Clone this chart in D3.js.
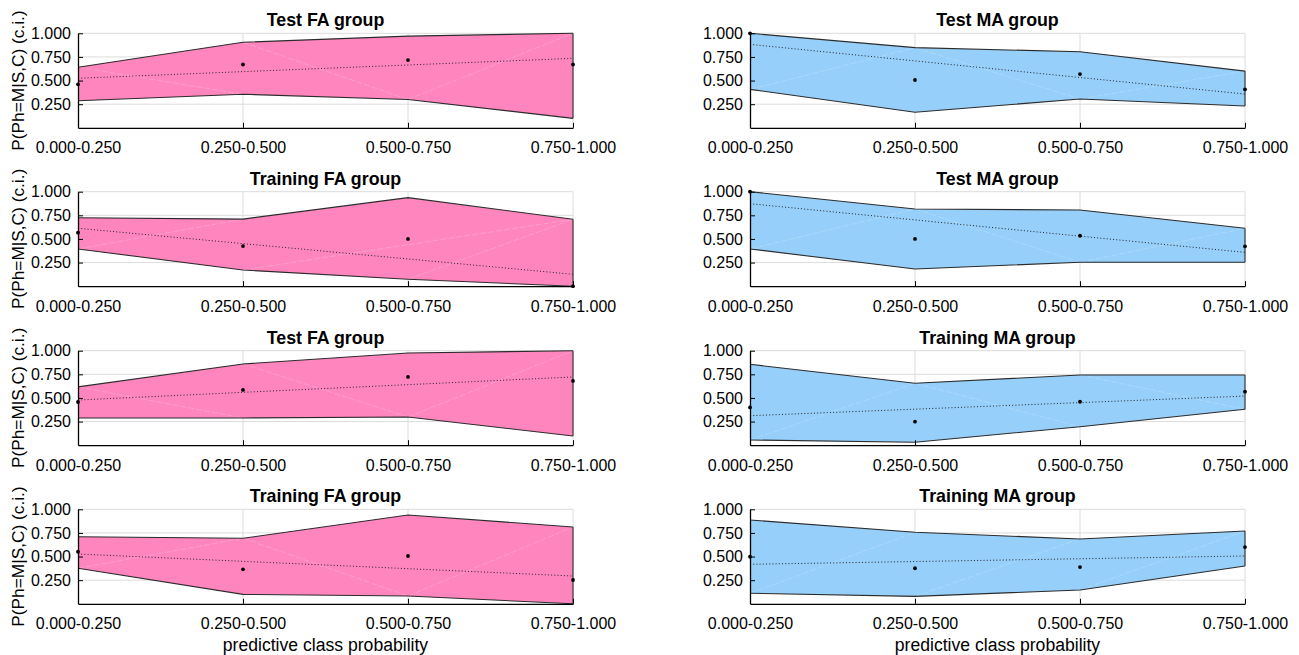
<!DOCTYPE html>
<html>
<head>
<meta charset="utf-8">
<script src="https://cdn.jsdelivr.net/npm/d3@7"></script>
<style>
  body { margin: 0; background: #fff; }
  text { font-family: "Liberation Sans", Arial, sans-serif; }
</style>
</head>
<body>
<svg id="chart"></svg>
<script>
//*************** data ******************//

var categories = ["0.000-0.250", "0.250-0.500", "0.500-0.750", "0.750-1.000"];
var yTicks = [0.25, 0.5, 0.75, 1.0];

// panels in reading order: left/right per row
var titles = ["Test FA group", "Test MA group",
              "Training FA group", "Test MA group",
              "Test FA group", "Training MA group",
              "Training FA group", "Training MA group"];
var groups = ["FA", "MA", "FA", "MA", "FA", "MA", "FA", "MA"];

// upper / lower bound of the interval
var upper = [[0.64, 0.905, 0.97, 1.0],
             [1.0, 0.848, 0.805, 0.60],
             [0.725, 0.71, 0.937, 0.708],
             [1.0, 0.817, 0.806, 0.613],
             [0.617, 0.86, 0.975, 1.0],
             [0.856, 0.655, 0.743, 0.743],
             [0.71, 0.693, 0.94, 0.813],
             [0.887, 0.757, 0.686, 0.77]];
var lower = [[0.287, 0.355, 0.30, 0.10],
             [0.407, 0.164, 0.305, 0.23],
             [0.394, 0.171, 0.073, 0.0],
             [0.394, 0.182, 0.253, 0.253],
             [0.288, 0.288, 0.298, 0.097],
             [0.055, 0.031, 0.196, 0.38],
             [0.376, 0.10, 0.083, 0.0],
             [0.111, 0.079, 0.146, 0.40]];
// observed proportion per bin
var observed = [[0.46, 0.67, 0.717, 0.67],
                [1.0, 0.506, 0.569, 0.407],
                [0.566, 0.425, 0.50, 0.0],
                [1.0, 0.50, 0.534, 0.422],
                [0.457, 0.585, 0.722, 0.68],
                [0.40, 0.249, 0.46, 0.566],
                [0.551, 0.365, 0.506, 0.252],
                [0.498, 0.376, 0.389, 0.60]];
// fitted trend at first and last bin
var trend = [[0.524, 0.735],
             [0.883, 0.357],
             [0.613, 0.126],
             [0.873, 0.358],
             [0.478, 0.722],
             [0.312, 0.52],
             [0.527, 0.294],
             [0.418, 0.506]];
// faint seams of the filled patch
var seams = [[["U",0,"L",1], ["U",1,"L",2], ["L",2,"U",3]],
             [["L",0,"U",1], ["U",1,"L",2], ["L",2,"U",3]],
             [["L",0,"U",1], ["L",1,"U",3], ["L",2,"U",3]],
             [["L",0,"U",1], ["U",1,"L",2], ["L",2,"U",3]],
             [["U",0,"L",1], ["U",1,"L",2], ["L",2,"U",3]],
             [["L",0,"U",1], ["U",1,"L",2], ["U",2,"L",3]],
             [["L",0,"U",1], ["U",1,"L",2], ["L",2,"U",3]],
             [["L",0,"U",1], ["L",1,"U",2], ["L",2,"U",3]]];

//*************** layout ******************//

var W = 1299, H = 655;
var colLeft = [78, 750];
var rowTop = [33.3, 191.7, 350.7, 509.3];
var pw = 495, ph = 94.5;
var fillColor = { FA: "#ff85bf", MA: "#96cffa" };

var svg = d3.select("svg#chart")
  .attr("width", W)
  .attr("height", H);

var xScale = d3.scalePoint().domain(categories).range([0, pw]).padding(0);
var yScale = d3.scaleLinear().domain([0, 1]).range([ph, 0]);

titles.forEach(function(title, p) {
  var col = p % 2, row = Math.floor(p / 2);
  var g = svg.append("g")
    .attr("transform", "translate(" + colLeft[col] + "," + rowTop[row] + ")");

  // grid
  g.append("g").selectAll("line").data(yTicks).enter().append("line")
    .attr("x1", 0).attr("x2", pw)
    .attr("y1", function(d) { return yScale(d); })
    .attr("y2", function(d) { return yScale(d); })
    .attr("stroke", "#dcdcdc").attr("stroke-width", 1);
  g.append("g").selectAll("line").data(categories.slice(1)).enter().append("line")
    .attr("x1", function(d) { return xScale(d); })
    .attr("x2", function(d) { return xScale(d); })
    .attr("y1", 0).attr("y2", ph)
    .attr("stroke", "#dcdcdc").attr("stroke-width", 1);

  // interval patch
  var pts = categories.map(function(c, i) {
    return { c: c, u: upper[p][i], l: lower[p][i] };
  });
  var area = d3.area()
    .x(function(d) { return xScale(d.c); })
    .y0(function(d) { return yScale(d.l); })
    .y1(function(d) { return yScale(d.u); });
  g.append("path").datum(pts)
    .attr("d", area)
    .attr("fill", fillColor[groups[p]])
    .attr("stroke", "none");

  // faint seams
  function pos(kind, i) {
    return [xScale(categories[i]), yScale(kind === "U" ? upper[p][i] : lower[p][i])];
  }
  seams[p].forEach(function(s) {
    var a = pos(s[0], s[1]), b = pos(s[2], s[3]);
    g.append("line")
      .attr("x1", a[0]).attr("y1", a[1]).attr("x2", b[0]).attr("y2", b[1])
      .attr("stroke", "#fff").attr("stroke-opacity", 0.25).attr("stroke-width", 0.8)
      .attr("stroke-dasharray", "6,2");
  });

  // bound lines
  var lineU = d3.line().x(function(d) { return xScale(d.c); }).y(function(d) { return yScale(d.u); });
  var lineL = d3.line().x(function(d) { return xScale(d.c); }).y(function(d) { return yScale(d.l); });
  g.append("path").datum(pts).attr("d", lineU)
    .attr("fill", "none").attr("stroke", "#2b2b2b").attr("stroke-width", 1.1);
  g.append("path").datum(pts).attr("d", lineL)
    .attr("fill", "none").attr("stroke", "#2b2b2b").attr("stroke-width", 1.1);
  g.append("line")
    .attr("x1", pw).attr("x2", pw)
    .attr("y1", yScale(upper[p][3])).attr("y2", yScale(lower[p][3]))
    .attr("stroke", "#2b2b2b").attr("stroke-width", 1.1);

  // trend
  g.append("line")
    .attr("x1", xScale(categories[0])).attr("y1", yScale(trend[p][0]))
    .attr("x2", xScale(categories[3])).attr("y2", yScale(trend[p][1]))
    .attr("stroke", "#222").attr("stroke-width", 1)
    .attr("stroke-dasharray", "1,2.2");

  // observed points
  g.append("g").selectAll("circle").data(observed[p]).enter().append("circle")
    .attr("cx", function(d, i) { return xScale(categories[i]); })
    .attr("cy", function(d) { return yScale(d); })
    .attr("r", 1.9)
    .attr("fill", "#000");

  // axes
  var xAxis = d3.axisBottom(xScale).tickSizeInner(-5).tickSizeOuter(0).tickPadding(14);
  var yAxis = d3.axisLeft(yScale).tickValues(yTicks).tickFormat(d3.format(".3f"))
    .tickSizeInner(-5).tickSizeOuter(0).tickPadding(6);

  var xa = g.append("g").attr("transform", "translate(0," + ph + ")").call(xAxis);
  var ya = g.append("g").call(yAxis);
  [xa, ya].forEach(function(a) {
    a.selectAll("path").attr("stroke", "#000").attr("stroke-width", 1.3);
    a.selectAll("line").attr("stroke", "#000");
    a.selectAll("text").attr("font-size", "16px").attr("fill", "#000")
      .attr("font-family", "Liberation Sans, Arial, sans-serif");
  });
  ya.selectAll(".tick text").attr("dx", "-1");

  // title
  g.append("text")
    .attr("x", pw / 2).attr("y", -7)
    .attr("text-anchor", "middle")
    .attr("font-size", "17.8px").attr("font-weight", "bold")
    .text(title);

  // y label on left column
  if (col === 0) {
    g.append("text")
      .attr("transform", "translate(" + (-54) + "," + (ph / 2) + ") rotate(-90)")
      .attr("text-anchor", "middle")
      .attr("font-size", "17.3px")
      .text("P(Ph=M|S,C) (c.i.)");
  }

  // x label on bottom row
  if (row === 3) {
    g.append("text")
      .attr("x", pw / 2).attr("y", ph + 47)
      .attr("text-anchor", "middle")
      .attr("font-size", "17.6px")
      .text("predictive class probability");
  }
});
</script>
</body>
</html>
